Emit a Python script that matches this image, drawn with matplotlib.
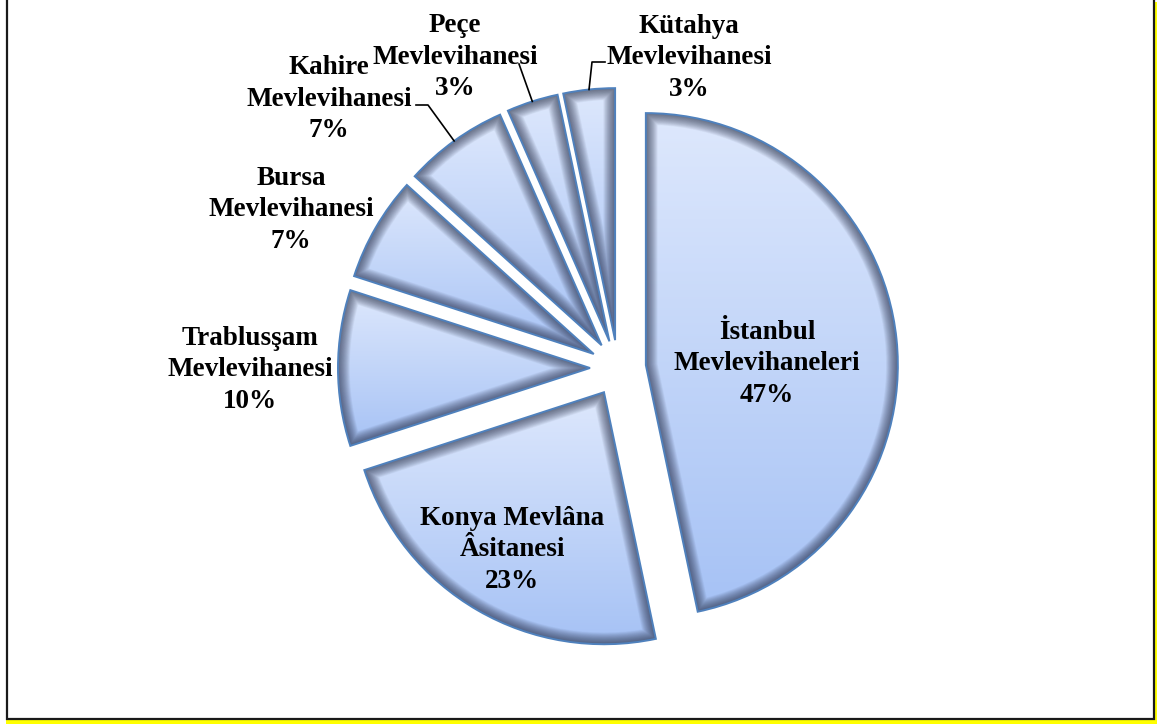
import numpy as np
import matplotlib.pyplot as plt
from matplotlib.patches import Rectangle, PathPatch

# data
names = ['İstanbul\nMevlevihaneleri', 'Konya Mevlâna\nÂsitanesi',
         'Trablusşam\nMevlevihanesi', 'Bursa\nMevlevihanesi',
         'Kahire\nMevlevihanesi', 'Peçe\nMevlevihanesi',
         'Kütahya\nMevlevihanesi']
shares = [46.7, 23.3, 10.0, 6.7, 6.7, 3.3, 3.3]

# label centres (pixel coords), and which get a leader line
label_pos = [(767, 364), (512, 550), (250, 370), (291, 210),
             (329, 99), (455, 57), (689, 58)]
leader_start = {4: [(416, 105), (428, 105)], 5: [(519, 64)],
                6: [(605, 62), (592, 62)]}

W, H = 1157, 726
fig = plt.figure(figsize=(W / 100, H / 100), dpi=100)
ax = fig.add_axes([0, 0, 1, 1])

# frame with yellow shadow
ax.add_patch(Rectangle((6, 2), W - 6, H - 4, facecolor='#ffff00', edgecolor='none', zorder=0))
ax.add_patch(Rectangle((7, H - 719), 1154 - 7, 719 + 5, facecolor='white',
                       edgecolor='#1a1a1a', lw=1.6, zorder=0.5))

wedges, _ = ax.pie(shares, startangle=90, counterclock=False, radius=252,
                   center=(618, H - 368), explode=[28] * len(shares), frame=True,
                   wedgeprops=dict(facecolor='none', edgecolor='#4f81bd', lw=1.4, zorder=4))

# vertical gradient for every slice
grad = np.linspace(0, 1, 256)[:, None]
c_bot = np.array([0.65, 0.76, 0.96])
c_top = np.array([0.87, 0.91, 0.99])
img = c_bot[None, None, :] * (1 - grad[..., None]) + c_top[None, None, :] * grad[..., None]
img = np.repeat(img, 2, axis=1)

for w in wedges:
    bb = w.get_path().get_extents()
    im = ax.imshow(img, extent=[bb.x0, bb.x1, bb.y0, bb.y1], origin='lower',
                   interpolation='bilinear', zorder=2, aspect='auto')
    im.set_clip_path(w)
    # soft inner shadow
    for lw in np.linspace(17, 1, 22):
        sp = PathPatch(w.get_path(), fill=False, lw=lw, edgecolor=(0.14, 0.17, 0.27, 0.04),
                       joinstyle='round', zorder=3)
        ax.add_patch(sp)
        sp.set_clip_path(w)

txt = dict(family='Liberation Serif', weight='bold', fontsize=19.5, ha='center',
           va='center', linespacing=1.33, zorder=6)
for i, (w, name, v) in enumerate(zip(wedges, names, shares)):
    x, y = label_pos[i]
    ax.text(x, H - y, f'{name}\n{round(v)}%', **txt)
    if i in leader_start:
        th = np.deg2rad((w.theta1 + w.theta2) / 2)
        ex = w.center[0] + w.r * np.cos(th)
        ey = w.center[1] + w.r * np.sin(th)
        pts = [(px, H - py) for px, py in leader_start[i]] + [(ex, ey)]
        ax.plot([p[0] for p in pts], [p[1] for p in pts], color='black', lw=1.2, zorder=5)

ax.set_xlim(0, W)
ax.set_ylim(0, H)
ax.set_aspect('auto')
ax.axis('off')
fig.savefig('out.png', dpi=100)
